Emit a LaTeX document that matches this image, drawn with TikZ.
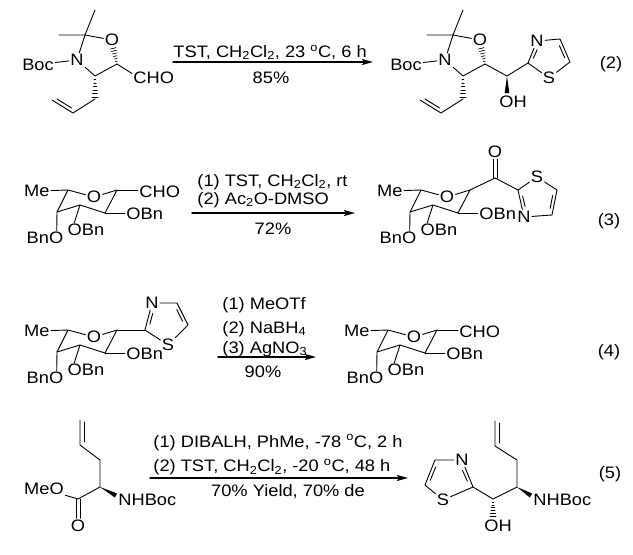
\documentclass[tikz,border=0pt]{standalone}
\usepackage{fontspec}
\setmainfont{Liberation Sans}[FakeStretch=1.1]
\usetikzlibrary{calc,arrows.meta}
\begin{document}
\begin{tikzpicture}[x=1pt,y=-1pt,>={Stealth[length=11pt,width=6pt,inset=2pt]},line cap=round,line join=round,line width=0.9pt,
  font=\fontsize{16.6}{19}\selectfont,
  atom/.style={inner sep=1pt},
  cond/.style={inner sep=0pt,anchor=base west},
  rxn/.style={->,line width=1.5pt}]
\useasboundingbox (0,0) rectangle (633,555);
\def\hashbond#1#2{\foreach \hk in {1,...,6}{\pgfmathsetmacro\hw{0.4+0.42*\hk}\draw[line width=0.7pt] ($(#1)!\hk/6.5!(#2)!\hw pt!90:(#2)$) -- ($(#1)!\hk/6.5!(#2)!\hw pt!-90:(#2)$);}}
\def\wedgebond#1#2{\fill (#1) -- ($(#2)!2.3pt!90:(#1)$) -- ($(#2)!2.3pt!-90:(#1)$) -- cycle;}
% oxazolidines
\foreach \s/\dx in {a/0,b/368}{
\begin{scope}[shift={(\dx,0)}]
\coordinate (xc2\s) at (85,35);
\coordinate (xmx\s) at (95,10);
\coordinate (xmy\s) at (59,35);
\node[atom] (xo\s) at (112,40) {O};
\node[atom] (xn\s) at (77,60) {N};
\node[atom] (xboc\s) at (38,64.5) {Boc};
\coordinate (xc4\s) at (95,76);
\coordinate (xc5\s) at (117,64);
\coordinate (xoh\s) at (113,47);
\coordinate (xal\s) at (95,99);
\coordinate (xav\s) at (73,113);
\coordinate (xat\s) at (52,100);
\draw (xmx\s) -- (xc2\s) -- (xmy\s);
\draw (xo\s) -- (xc2\s) -- (xn\s) -- (xc4\s) -- (xc5\s);
\draw (xboc\s) -- (xn\s);
\hashbond{xc5\s}{xoh\s}
\hashbond{xc4\s}{xal\s}
\draw (xal\s) -- (xav\s) -- (xat\s);
\draw ($(xav\s)!0.15!(xat\s)!3.5pt!-90:(xat\s)$) -- ($(xav\s)!0.85!(xat\s)!3.5pt!-90:(xat\s)$);
\end{scope}}
% sugars
\foreach \s/\px/\py in {a/68/190,b/421/190,c/68/330,d/388/330}{
\begin{scope}[shift={(\px,\py)}]
\coordinate (sc5\s) at (0,0);
\coordinate (sc1\s) at (49,0);
\coordinate (sc2\s) at (37,23);
\coordinate (sc3\s) at (12,15);
\coordinate (sc4\s) at (-11,22);
\node[atom] (so\s) at (26,7) {O};
\node[atom,anchor=east] (sme\s) at (-17,1) {Me};
\node[atom,anchor=west] (sba\s) at (57,24) {OBn};
\node[atom] (sbb\s) at (18,40) {OBn};
\node[atom] (sbc\s) at (-23,48) {BnO};
\draw (sme\s) -- (sc5\s) -- (so\s) -- (sc1\s) -- (sc2\s) -- (sc3\s) -- (sc4\s) -- (sc5\s);
\draw (sc2\s) -- (sba\s.west |- sc2\s);
\draw (sc3\s) -- ([xshift=8pt]sbb\s.north west);
\draw (sc4\s) -- ([xshift=-8pt]sbc\s.north east);
\end{scope}}
% thiazoles
\coordinate (tc2a) at (528,63);
\node[atom] (tna) at (537,41) {N};
\coordinate (tc4a) at (560,39);
\coordinate (tc5a) at (570,62);
\node[atom] (tsa) at (549,78) {S};
\coordinate (tza) at (549,57);
\coordinate (tc2b) at (518,190);
\node[atom] (tnb) at (524,217) {N};
\coordinate (tc4b) at (552,215);
\coordinate (tc5b) at (557,190);
\node[atom] (tsb) at (537,177) {S};
\coordinate (tzb) at (538,199);
\coordinate (tc2c) at (145,330);
\node[atom] (tnc) at (152,303) {N};
\coordinate (tc4c) at (177,303);
\coordinate (tc5c) at (188,325);
\node[atom] (tsc) at (168,345) {S};
\coordinate (tzc) at (166,322);
\coordinate (tc2d) at (473,487);
\node[atom] (tnd) at (462,460) {N};
\coordinate (tc4d) at (435,460);
\coordinate (tc5d) at (425,485);
\node[atom] (tsd) at (443,500) {S};
\coordinate (tzd) at (448,479);
\foreach \t in {a,b,c,d}{
\draw (tc2\t) -- (tn\t) -- (tc4\t) -- (tc5\t) -- (ts\t) -- (tc2\t);
\draw ($(tc2\t)!0.2!(tn\t)!3.5pt!(tz\t)$) -- ($(tc2\t)!0.68!(tn\t)!3.5pt!(tz\t)$);
\draw ($(tc4\t)!0.18!(tc5\t)!3.5pt!(tz\t)$) -- ($(tc4\t)!0.82!(tc5\t)!3.5pt!(tz\t)$);
}
% eq 2
\node[atom,anchor=west] (ald2) at (132,77.5) {CHO};
\draw (xc5a) -- ([yshift=4pt]ald2.west);
\coordinate (pch) at (507,76);
\coordinate (pwe) at (507,93);
\node[atom] (poh) at (513,101.5) {OH};
\draw (xc5b) -- (pch) -- (tc2a);
\wedgebond{pch}{pwe}
\coordinate (ar2s) at (173,62);
\coordinate (ar2e) at (373,62);
\draw[rxn] (ar2s) -- (ar2e);
\node[cond] (t2a) at (173,57.3) {TST, CH\textsubscript{2}Cl\textsubscript{2}, 23 \textsuperscript{o}C, 6 h};
\node (t2b) at (271,77.5) {85\%};
\node (eq2) at (611,64) {(2)};
% eq 3
\node[atom,anchor=west] (ald3) at (138,191.5) {CHO};
\draw (sc1a) -- (ald3.west |- sc1a);
\coordinate (kc) at (495,178);
\node[atom] (ko) at (495,152) {O};
\draw (sc1b) -- (kc) -- (tc2b);
\draw ([xshift=-2pt]kc) -- ([xshift=-2pt]ko.south);
\draw ([xshift=2pt]kc) -- ([xshift=2pt]ko.south);
\coordinate (ar3s) at (192,213);
\coordinate (ar3e) at (355,213);
\draw[rxn] (ar3s) -- (ar3e);
\node[cond] (t3a) at (197,186) {(1) TST, CH\textsubscript{2}Cl\textsubscript{2}, rt};
\node[cond] (t3b) at (197,204) {(2) Ac\textsubscript{2}O-DMSO};
\node (t3c) at (273,229) {72\%};
\node (eq3) at (609,221) {(3)};
% eq 4
\draw (sc1c) -- (tc2c);
\node[atom,anchor=west] (ald4) at (458,331.5) {CHO};
\draw (sc1d) -- (ald4.west |- sc1d);
\coordinate (ar4s) at (218,357);
\coordinate (ar4e) at (316,357);
\draw[rxn] (ar4s) -- (ar4e);
\node[cond] (t4a) at (222,309) {(1) MeOTf};
\node[cond] (t4b) at (222,333) {(2) NaBH\textsubscript{4}};
\node[cond] (t4c) at (222,353) {(3) AgNO\textsubscript{3}};
\node (t4d) at (263,372) {90\%};
\node (eq4) at (609,352) {(4)};
% eq 5
\coordinate (rv1) at (80,420);
\coordinate (rv2) at (80,445);
\coordinate (rch) at (100,460);
\coordinate (rcs) at (100,487);
\coordinate (rce) at (78,499);
\coordinate (rwe) at (116,495.5);
\node[atom] (rmeo) at (44,489) {MeO};
\node[atom] (rco) at (78,525.5) {O};
\node[atom,anchor=west] (rnh) at (117,500) {NHBoc};
\draw (rv1) -- (rv2) -- (rch) -- (rcs) -- (rce) -- (rmeo);
\draw ($(rv1)+(4.5,2)$) -- ($(rv2)+(4.5,-3)$);
\draw ([xshift=-2pt]rce) -- ([xshift=-2pt]rco.north);
\draw ([xshift=2pt]rce) -- ([xshift=2pt]rco.north);
\wedgebond{rcs}{rwe}
\coordinate (pv1) at (495,421);
\coordinate (pv2) at (495,446);
\coordinate (pch2) at (517,460);
\coordinate (pcs) at (517,487);
\coordinate (pcoh) at (493,499);
\coordinate (phe) at (493,518);
\coordinate (pwe5) at (531,495.5);
\node[atom] (poh5) at (498,525.5) {OH};
\node[atom,anchor=west] (pnh) at (532,500) {NHBoc};
\draw (pv1) -- (pv2) -- (pch2) -- (pcs) -- (pcoh) -- (tc2d);
\draw ($(pv1)+(4.5,2)$) -- ($(pv2)+(4.5,-3)$);
\wedgebond{pcs}{pwe5}
\hashbond{pcoh}{phe}
\coordinate (ar5s) at (150,478);
\coordinate (ar5e) at (408,478);
\draw[rxn] (ar5s) -- (ar5e);
\node[cond] (t5a) at (153,447) {(1) DIBALH, PhMe, -78 \textsuperscript{o}C, 2 h};
\node[cond] (t5b) at (153,471.5) {(2) TST, CH\textsubscript{2}Cl\textsubscript{2}, -20 \textsuperscript{o}C, 48 h};
\node (t5c) at (288,492) {70\% Yield, 70\% de};
\node (eq5) at (610,474) {(5)};
\end{tikzpicture}
\end{document}
